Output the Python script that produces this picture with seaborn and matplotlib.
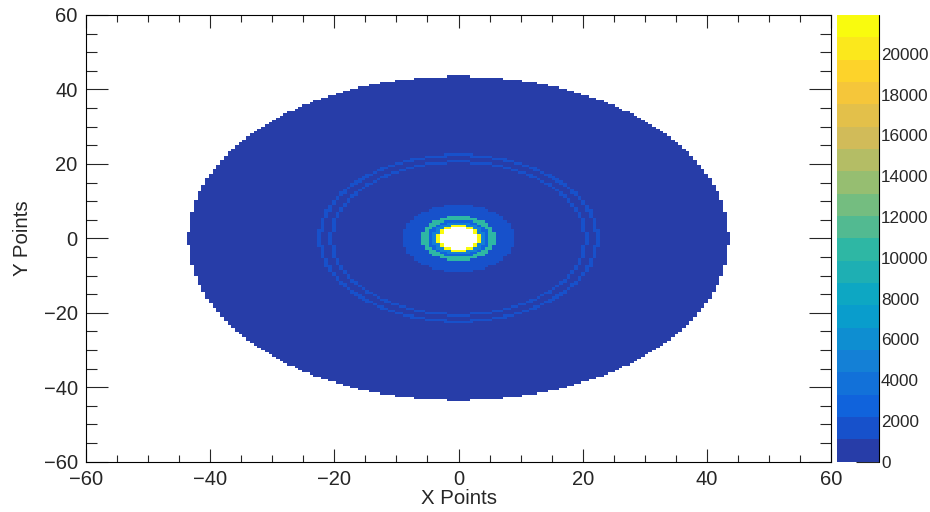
import numpy as np
import pandas as pd
import matplotlib
matplotlib.use("Agg")
import matplotlib.pyplot as plt
import seaborn as sns
from matplotlib.colors import ListedColormap
from matplotlib.ticker import MultipleLocator

# Histogram binning (same on both axes)
n_bins = 200
axis_range = (-60.0, 60.0)

# Radial profile of the hit map: ring k spans [ring_edges[k], ring_edges[k+1])
# and every bin whose centre falls in it holds ring_counts[k]
ring_edges = [3.0, 3.6, 4.3, 5.1, 6.0, 9.0, 20.2, 20.8, 22.0, 22.6, 43.55]
ring_counts = [21000, 4500, 3000, 10500, 2000, 600, 1500, 600, 1500, 600]

# Colour scale
z_max = 21900
n_contours = 20
z_ticks = list(range(0, 20001, 2000))

# ROOT "bird" palette
bird_stops = [0.0, 0.125, 0.25, 0.375, 0.5, 0.625, 0.75, 0.875, 1.0]
bird_red = [0.2082, 0.0592, 0.0780, 0.0232, 0.1802, 0.5301, 0.8186, 0.9956, 0.9764]
bird_green = [0.1664, 0.3599, 0.5041, 0.6419, 0.7178, 0.7492, 0.7328, 0.7862, 0.9832]
bird_blue = [0.5293, 0.8684, 0.8385, 0.7914, 0.6425, 0.4662, 0.3499, 0.1968, 0.0539]

# Bin centres and the content of every bin from the radial profile
edges = np.linspace(axis_range[0], axis_range[1], n_bins + 1)
centers = 0.5 * (edges[:-1] + edges[1:])
X, Y = np.meshgrid(centers, centers)
R = np.hypot(X, Y)
ring_index = np.searchsorted(ring_edges, R, side="right") - 1
inside = (ring_index >= 0) & (ring_index < len(ring_counts))
content = np.zeros_like(R)
content[inside] = np.asarray(ring_counts, dtype=float)[ring_index[inside]]
df = pd.DataFrame({"x": X.ravel(), "y": Y.ravel(), "w": content.ravel()})

# Discrete palette: one colour per contour level, sampled as ROOT does
levels_pos = [int((i + 0.99) * 255 / n_contours) / 254 for i in range(n_contours)]
palette = [(np.interp(p, bird_stops, bird_red),
            np.interp(p, bird_stops, bird_green),
            np.interp(p, bird_stops, bird_blue)) for p in levels_pos]
cmap = ListedColormap(palette)

sns.set_style("white")
plt.rcParams["font.family"] = ["Liberation Sans", "DejaVu Sans"]

W, H = 930, 512
fig = plt.figure(figsize=(W / 100, H / 100), dpi=100)
ax_l, ax_r, ax_t, ax_b = 86, 831, 15, 461.7
ax = fig.add_axes([ax_l / W, 1 - ax_b / H, (ax_r - ax_l) / W, (ax_b - ax_t) / H])
cb_l, cb_r = 837, 879
cax = fig.add_axes([cb_l / W, 1 - ax_b / H, (cb_r - cb_l) / W, (ax_b - ax_t) / H])

sns.histplot(data=df, x="x", y="y", weights="w", bins=n_bins,
             binrange=(axis_range, axis_range), cmap=cmap, vmin=0, vmax=z_max,
             cbar=True, cbar_ax=cax, ax=ax)

ax.set_xlim(*axis_range)
ax.set_ylim(*axis_range)
ax.xaxis.set_major_locator(MultipleLocator(20))
ax.xaxis.set_minor_locator(MultipleLocator(5))
ax.yaxis.set_major_locator(MultipleLocator(20))
ax.yaxis.set_minor_locator(MultipleLocator(5))
for s in ax.spines.values():
    s.set_visible(True)
    s.set_linewidth(0.8)
    s.set_color("black")
ax.tick_params(axis="x", which="major", direction="in", length=9.5, width=0.8,
               top=True, bottom=True, labelsize=14.5, pad=6)
ax.tick_params(axis="x", which="minor", direction="in", length=4.8, width=0.8,
               top=True, bottom=True)
ax.tick_params(axis="y", which="major", direction="in", length=15.8, width=0.8,
               left=True, right=True, labelsize=14.5, pad=6)
ax.tick_params(axis="y", which="minor", direction="in", length=7.9, width=0.8,
               left=True, right=True)

ax.set_xlabel("X Points", fontsize=14.7, va="center")
ax.xaxis.set_label_coords(0.5, (ax_b - 498) / (ax_b - ax_t))
ax.set_ylabel("Y Points", fontsize=14.7, va="center")
ax.yaxis.set_label_coords((23 - ax_l) / (ax_r - ax_l), 0.5)

# Palette axis: ticks on the right edge pointing into the colour strip
cbar = ax.collections[0].colorbar
cbar.outline.set_visible(False)
cbar.set_ticks(z_ticks)
cbar.set_ticklabels([str(t) for t in z_ticks])
cax.yaxis.set_ticks_position("right")
cax.tick_params(axis="y", which="major", direction="in", length=16.5, width=0.8,
                labelsize=12.3, pad=1.5)
cax.minorticks_off()
cax.plot([1, 1], [0, 1], transform=cax.transAxes, color="black", lw=0.8, clip_on=False)

fig.savefig("out.png", dpi=100)
